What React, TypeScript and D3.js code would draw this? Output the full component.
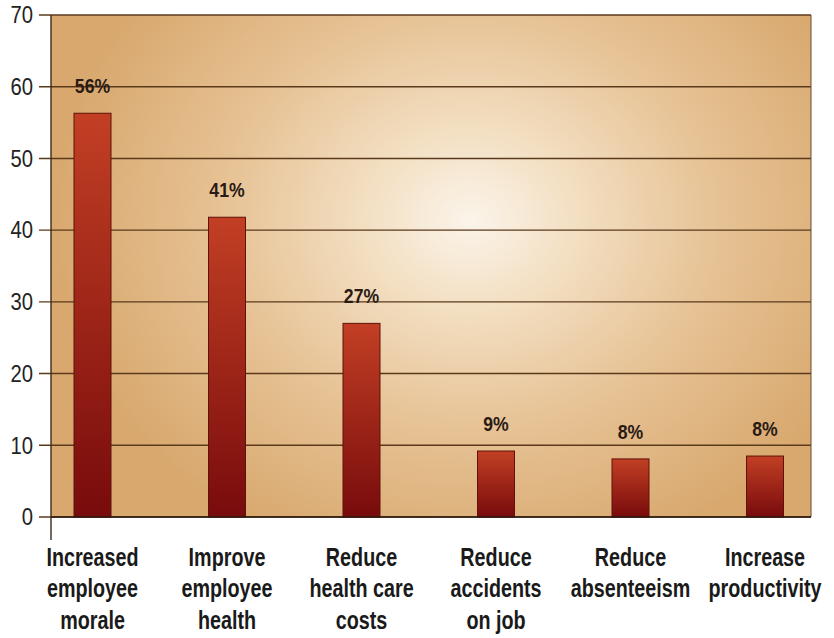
import React from "react";
import * as d3 from "d3";

const categories: string[][] = [
  ["Increased", "employee", "morale"],
  ["Improve", "employee", "health"],
  ["Reduce", "health care", "costs"],
  ["Reduce", "accidents", "on job"],
  ["Reduce", "absenteeism"],
  ["Increase", "productivity"],
];
const values: number[] = [56.3, 41.8, 27, 9.2, 8.1, 8.5];
const valueLabels: string[] = ["56%", "41%", "27%", "9%", "8%", "8%"];
const yTicks: number[] = [0, 10, 20, 30, 40, 50, 60, 70];

const W = 834;
const H = 638;
const plotLeft = 51;
const plotRight = 811;
const plotTop = 15;
const plotBottom = 517;
const FONT = "'Liberation Sans Narrow', 'Arial Narrow', 'Liberation Sans', Arial, sans-serif";

export default function App() {
  const ids = categories.map((_, i) => String(i));
  const x = d3.scalePoint<string>().domain(ids).range([92.5, 765]);
  const y = d3.scaleLinear().domain([0, 70]).range([plotBottom, plotTop]);
  const barW = 37;

  return (
    <svg
      width={W}
      height={H}
      style={{ position: "absolute", left: 0, top: 0, background: "#fff" }}
    >
      <defs>
        <radialGradient
          id="bg"
          gradientUnits="userSpaceOnUse"
          cx={470}
          cy={220}
          r={420}
          gradientTransform="translate(470,220) scale(1,0.85) translate(-470,-220)"
        >
          <stop offset="0%" stopColor="#fbf4ea" />
          <stop offset="25%" stopColor="#f3dfc2" />
          <stop offset="60%" stopColor="#e6c193" />
          <stop offset="100%" stopColor="#d8a86e" />
        </radialGradient>
        <linearGradient id="bar" x1="0" y1="0" x2="0" y2="1">
          <stop offset="0%" stopColor="#c23f24" />
          <stop offset="100%" stopColor="#780b0c" />
        </linearGradient>
      </defs>
      <rect
        x={plotLeft}
        y={plotTop}
        width={plotRight - plotLeft}
        height={plotBottom - plotTop}
        fill="url(#bg)"
      />
      {yTicks.map((t) => (
        <g key={t}>
          <line
            x1={39}
            x2={plotRight}
            y1={y(t)}
            y2={y(t)}
            stroke="#5b3a1c"
            strokeWidth={1.4}
          />
          <text
            transform={`translate(33,${y(t)}) scale(0.88,1)`}
            dy="0.36em"
            textAnchor="end"
            fontFamily={FONT}
            fontSize={23}
            fill="#222"
          >
            {t}
          </text>
        </g>
      ))}
      <line x1={plotRight} x2={plotRight} y1={plotTop} y2={plotBottom} stroke="#6b4a2a" strokeWidth={1} />
      {values.map((v, i) => {
        const cx = x(String(i)) as number;
        return (
          <g key={i}>
            <rect
              x={cx - barW / 2}
              y={y(v)}
              width={barW}
              height={plotBottom - y(v)}
              fill="url(#bar)"
              stroke="#5e1208"
              strokeWidth={1}
            />
            <text
              transform={`translate(${cx},${y(v) - 20}) scale(0.84,1)`}
              textAnchor="middle"
              fontFamily={FONT}
              fontWeight="bold"
              fontSize={21}
              fill="#2a1a14"
            >
              {valueLabels[i]}
            </text>
            <g transform={`translate(${cx},566) scale(0.79,1)`}>
              <text
                textAnchor="middle"
                fontFamily={FONT}
                fontWeight="bold"
                fontSize={25}
                fill="#1a1a1a"
              >
                {categories[i].map((line, j) => (
                  <tspan key={j} x={0} dy={j === 0 ? 0 : 31.5}>
                    {line}
                  </tspan>
                ))}
              </text>
            </g>
          </g>
        );
      })}
      <line x1={plotLeft} x2={plotRight} y1={plotBottom} y2={plotBottom} stroke="#2a1a10" strokeWidth={1.6} />
      <line x1={plotLeft} x2={plotLeft} y1={plotTop} y2={540} stroke="#3a2a1a" strokeWidth={1.4} />
    </svg>
  );
}
